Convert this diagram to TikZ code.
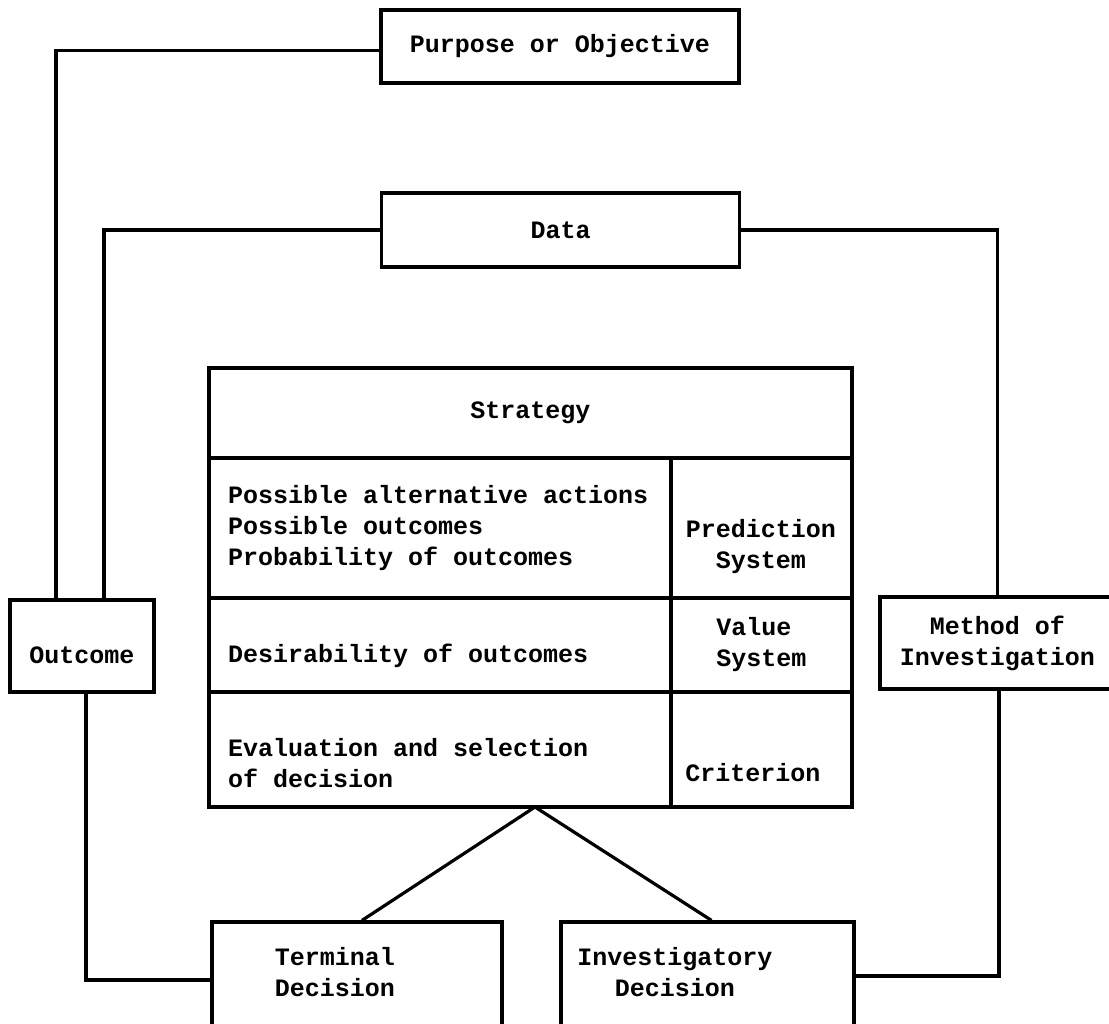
\documentclass[tikz,border=0pt]{standalone}
\usepackage{fontspec}
\setmonofont{Liberation Mono}
\begin{document}
\begin{tikzpicture}[
            x=1pt, y=-1pt,
            font=\ttfamily\bfseries\fontsize{25}{31}\selectfont,
            box/.style={rectangle, draw, line width=3.2pt, inner sep=0pt, align=center},
            leftcell/.style={box, minimum width=462pt, text width=424pt, inner xsep=19pt, align=flush left},
            lowtext/.style={text height=36pt, text depth=2pt},
            txt/.style={inner sep=0pt, align=center},
            link/.style={line width=3.2pt}
        ]
            \useasboundingbox (0,0) rectangle (1109,1024);

            \node[box, minimum width=358pt, minimum height=73pt] (purpose) at (560,46.5) {Purpose or Objective};
            \node[box, minimum width=358pt, minimum height=74pt] (data) at (560.5,230) {Data};

            % strategy table
            \node[box, minimum width=643pt, minimum height=90pt] (strat) at (530.5,413) {Strategy};
            \node[leftcell, minimum height=140pt] (alt) at (440,528) {Possible alternative actions\\Possible outcomes\\Probability of outcomes};
            \node[box, minimum width=181pt, minimum height=140pt] (pred) at (761.5,528) {};
            \node[leftcell, lowtext, minimum height=94pt] (des) at (440,645) {Desirability of outcomes};
            \node[box, minimum width=181pt, minimum height=94pt, align=flush left] (val) at (761.5,645) {Value\\System};
            \node[box, minimum width=462pt, minimum height=115pt] (eval) at (440,749.5) {};
            \node[box, minimum width=181pt, minimum height=115pt] (crit) at (761.5,749.5) {};
            \node[txt] (tpred) at (761,547) {Prediction\\System};
            \node[txt, anchor=west, align=flush left] (teval) at (228,763) {Evaluation and selection\\of decision};
            \node[txt] (tcrit) at (753,773) {Criterion};

            \node[box, lowtext, minimum width=144pt, minimum height=92pt] (outcome) at (82,646) {Outcome};
            \node[box, minimum width=235pt, minimum height=92pt] (method) at (997.5,643) {Method of\\Investigation};
            \node[box, minimum width=290pt, minimum height=118pt] (term) at (357,981) {};
            \node[box, minimum width=293pt, minimum height=118pt] (invest) at (707.5,981) {};
            \node[txt] (tterm) at (335,972) {Terminal\\Decision};
            \node[txt] (tinvest) at (675,972) {Investigatory\\Decision};

            \coordinate (apex) at (535,807);

            \draw[link] ([yshift=-4pt]purpose.west) -| ([xshift=-26pt]outcome.north);
            \draw[link] (data.west) -| ([xshift=22pt]outcome.north);
            \draw[link] (data.east) -| (method.north);
            \draw[link] ([xshift=4pt]outcome.south) |- ([yshift=1pt]term.west);
            \draw[link] ([xshift=1.5pt]method.south) |- ([yshift=5pt]invest.east);
            \draw[link] ([xshift=5pt]term.north) -- (apex) -- ([xshift=4pt]invest.north);
        \end{tikzpicture}
\end{document}
